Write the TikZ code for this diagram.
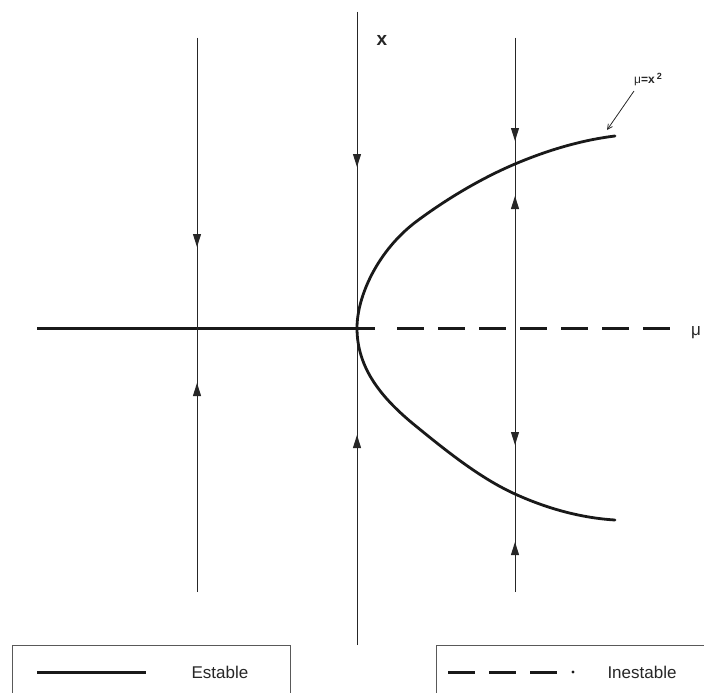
\documentclass[tikz,border=0pt]{standalone}
\usepackage{fontspec}
\setmainfont{Liberation Sans}
\usetikzlibrary{arrows.meta}
\tikzset{
  flowline/.style={line width=1pt, draw=black!85},
  tiparrow/.style={flowline, -{Triangle[length=13pt,width=8pt]}},
  axisline/.style={line width=3pt, draw=black!90},
  branch/.style={line width=2.8pt, draw=black!90, line cap=round, line join=round},
  legbox/.style={line width=1pt, draw=black!65},
  lab/.style={inner sep=0pt, font=\fontsize{17}{20}\selectfont, text=black!85},
}
\begin{document}
\begin{tikzpicture}[x=1pt,y=-1pt]
\useasboundingbox (0,0) rectangle (704,693);
\clip (0,0) rectangle (704,693);
% horizontal axis
\coordinate (H0) at (37,328);
\coordinate (H1) at (375,328);
\coordinate (H2) at (397,328);
\coordinate (H3) at (672,328);
\draw[axisline] (H0) -- (H1);
\draw[axisline, dash pattern=on 27pt off 14pt] (H2) -- (H3);
\node[lab] (mu) at (696,333) {μ};
% left vertical line
\coordinate (L1) at (197,38);
\coordinate (L2) at (197,247);
\coordinate (L3) at (197,383);
\coordinate (L4) at (197,592);
\draw[flowline] (L1) -- (L4);
\draw[tiparrow] (L1) -- (L2);
\draw[tiparrow] (L4) -- (L3);
% central vertical axis
\coordinate (C1) at (357,12);
\coordinate (C2) at (357,167);
\coordinate (C3) at (357,435);
\coordinate (C4) at (357,645);
\draw[flowline] (C1) -- (C4);
\draw[tiparrow] (C1) -- (C2);
\draw[tiparrow] (C4) -- (C3);
\node[lab, font=\fontsize{19}{20}\selectfont\bfseries] (xlab) at (382,40) {x};
% right vertical line
\coordinate (R1) at (515,38);
\coordinate (R2) at (515,141);
\coordinate (R3) at (515,196);
\coordinate (R4) at (515,445);
\coordinate (R5) at (515,542);
\coordinate (R6) at (515,592);
\draw[flowline] (R1) -- (R6);
\draw[tiparrow] (R1) -- (R2);
\draw[tiparrow] (R4) -- (R3);
\draw[tiparrow] (R3) -- (R4);
\draw[tiparrow] (R6) -- (R5);
% parabola mu = x^2
\draw[branch] (615,136)
  .. controls (582,140) and (548,150) .. (515,164)
  .. controls (482,178) and (448,198) .. (417,221)
  .. controls (378,250) and (357,296) .. (357,328)
  .. controls (357,368) and (381,398) .. (417,427)
  .. controls (450,454) and (482,479) .. (515,494)
  .. controls (548,509) and (582,518) .. (615,520);
% label of the curve
\node[inner sep=0pt, anchor=base, font=\fontsize{12}{14}\selectfont, text=black!85] (curvelab) at (648,84)
  {μ\textbf{=x}\,\raisebox{5pt}{\fontsize{9}{9}\selectfont\textbf{2}}};
\coordinate (LA) at (634,91);
\coordinate (LB) at (607,130);
\draw[line width=0.8pt, draw=black!85, -{Straight Barb[length=5pt,width=5pt]}] (LA) -- (LB);
% legend
\draw[legbox] (12,645) rectangle (290,710);
\coordinate (S1) at (37,672);
\coordinate (S2) at (146,672);
\draw[line width=3pt, draw=black!90] (S1) -- (S2);
\node[lab] (estable) at (220,672) {Estable};
\draw[legbox] (436,645) rectangle (720,710);
\coordinate (D1) at (448,672);
\coordinate (D2) at (557,672);
\draw[line width=3pt, draw=black!90, dash pattern=on 27pt off 14pt] (D1) -- (D2);
\fill[black!90] (573,672) circle (1.6pt);
\node[lab] (inestable) at (642,672) {Inestable};
\end{tikzpicture}
\end{document}
